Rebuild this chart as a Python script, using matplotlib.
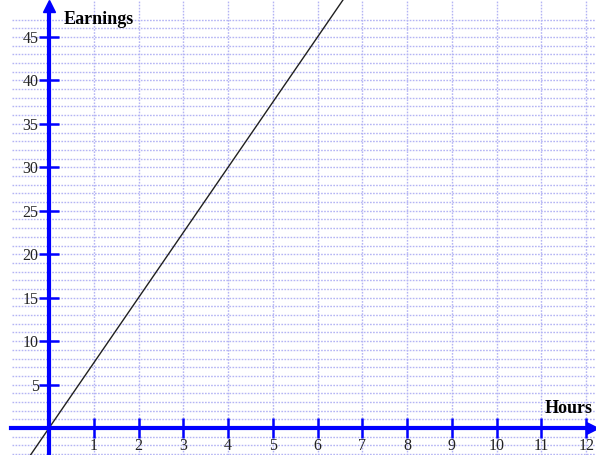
import matplotlib
matplotlib.use("Agg")
import matplotlib.pyplot as plt
import numpy as np

# Hourly wage line: earnings = rate * hours
rate = 7.5
hours_line = [-0.45, 6.6]
x_ticks = [1, 2, 3, 4, 5, 6, 7, 8, 9, 10, 11, 12]
y_ticks = [5, 10, 15, 20, 25, 30, 35, 40, 45]
x_label = "Hours"
y_label = "Earnings"

fig = plt.figure(figsize=(5.96, 4.55), dpi=100)
ax = fig.add_axes([0, 0, 1, 1])
xmin, xmax = -1.095, 12.22
ymin, ymax = -3.1, 49.25
ax.set_xlim(xmin, xmax)
ax.set_ylim(ymin, ymax)

grid_color = "#b4b4f4"
# dotted grid: horizontal every unit, vertical at each hour
for yv in range(-3, 48):
    ax.plot([-0.83, xmax], [yv, yv], color=grid_color, lw=1.0,
            ls=(0, (1.2, 1.0)), zorder=1)
for xv in x_ticks:
    ax.plot([xv, xv], [ymin, ymax], color=grid_color, lw=1.0,
            ls=(0, (1.2, 1.0)), zorder=1)

# the earnings line
hx = np.array(hours_line)
ax.plot(hx, rate * hx, color="#202020", lw=1.0, zorder=4)

# axes through the origin
blue = "#0000ff"
for name in ("top", "right"):
    ax.spines[name].set_visible(False)
ax.spines["left"].set_position(("data", 0))
ax.spines["bottom"].set_position(("data", 0))
ax.spines["left"].set_color(blue)
ax.spines["bottom"].set_color(blue)
ax.spines["left"].set_linewidth(3)
ax.spines["bottom"].set_linewidth(3)
ax.spines["left"].set_bounds(ymin, 48.3)
ax.spines["bottom"].set_bounds(-0.85, 12.05)
ax.spines["left"].set_zorder(5)
ax.spines["bottom"].set_zorder(5)

# arrowheads
ax.plot([0], [48.55], marker="^", color=blue, markersize=9, clip_on=False, zorder=6)
ax.plot([12.12], [0], marker=">", color=blue, markersize=9, clip_on=False, zorder=6)

ax.set_xticks(x_ticks)
ax.set_yticks(y_ticks)
ax.set_xticklabels([str(v) for v in x_ticks])
ax.set_yticklabels([str(v) for v in y_ticks])
ax.tick_params(axis="both", direction="inout", length=15, width=1.8,
               color=blue, labelsize=11.5, labelcolor="#222222", pad=0)
for lab in ax.get_xticklabels() + ax.get_yticklabels():
    lab.set_fontfamily("Liberation Serif")

ax.text(0.33, 47.0, y_label, fontsize=13, fontweight="bold",
        family="Liberation Serif", ha="left", va="center", zorder=7)
ax.text(12.15, 2.2, x_label, fontsize=13, fontweight="bold",
        family="Liberation Serif", ha="right", va="center", zorder=7)

fig.savefig("out.png", dpi=100)
